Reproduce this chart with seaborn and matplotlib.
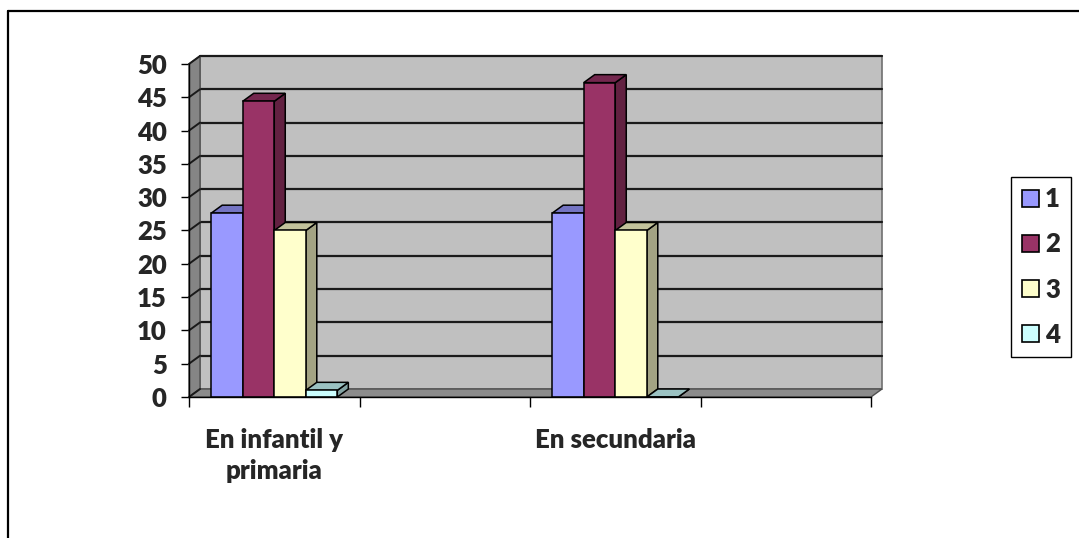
import matplotlib
matplotlib.use("Agg")
import matplotlib.pyplot as plt
from matplotlib.patches import Polygon, Rectangle
from matplotlib.lines import Line2D
import matplotlib.colors as mcolors
import numpy as np
import pandas as pd
import seaborn as sns

# ---- data -------------------------------------------------------------
categories = ["En infantil y\nprimaria", "En secundaria"]
series = ["1", "2", "3", "4"]
values_infantil = [27.6, 44.4, 25.0, 1.0]
values_secundaria = [27.6, 47.2, 25.0, 0.0]
y_ticks = [0, 5, 10, 15, 20, 25, 30, 35, 40, 45, 50]
colors = ["#9999FF", "#993366", "#FFFFCC", "#CCFFFF"]

# category slots on the axis (two unlabeled slots keep the original spacing)
slot_order = [categories[0], " ", categories[1], "  "]

df = pd.DataFrame({
    "categoria": [categories[0]] * len(series) + [categories[1]] * len(series),
    "serie": series + series,
    "valor": values_infantil + values_secundaria,
})

# ---- figure -----------------------------------------------------------
W, H, DPI = 1079, 538, 100
sns.set_theme(style="white")
plt.rcParams["font.family"] = ["Lato", "DejaVu Sans"]
FW = "heavy"
fig = plt.figure(figsize=(W / DPI, H / DPI), dpi=DPI)

# front plane of the 3D box
left_px, right_px, top_px, bottom_px = 189, 871, 64, 397
ax = fig.add_axes([left_px / W, 1 - bottom_px / H,
                   (right_px - left_px) / W, (bottom_px - top_px) / H])

sns.barplot(data=df, x="categoria", y="valor", hue="serie", order=slot_order,
            hue_order=series, palette=colors, width=0.74, saturation=1,
            edgecolor="black", linewidth=1.1, ax=ax, zorder=10)

ax.set_xlim(-0.5, len(slot_order) - 0.5)
ax.set_ylim(0, 50)
ax.patch.set_visible(False)

# depth offset of the box expressed in data units
dx_px, dy_px = 11, 8
px_x = (right_px - left_px) / len(slot_order)
px_y = (bottom_px - top_px) / 50
dxd, dyd = dx_px / px_x, dy_px / px_y
x0_box, x1_box = -0.5, len(slot_order) - 0.5

# back wall with gridlines
ax.add_patch(Rectangle((x0_box + dxd, dyd), x1_box - x0_box, 50,
                       facecolor="#C0C0C0", edgecolor="#707070", lw=1.2,
                       zorder=1, clip_on=False))
for v in y_ticks[1:]:
    ax.add_line(Line2D([x0_box + dxd, x1_box + dxd], [v + dyd, v + dyd],
                       color="#1a1a1a", lw=1.6, zorder=2, clip_on=False))
# left side wall
ax.add_patch(Polygon([(x0_box, 0), (x0_box, 50), (x0_box + dxd, 50 + dyd),
                      (x0_box + dxd, dyd)], closed=True, facecolor="#858585",
                     edgecolor="#505050", lw=1, zorder=3, clip_on=False))
for v in y_ticks:
    ax.add_line(Line2D([x0_box, x0_box + dxd], [v, v + dyd],
                       color="#1a1a1a", lw=1.4, zorder=4, clip_on=False))
# floor
ax.add_patch(Polygon([(x0_box, 0), (x1_box, 0), (x1_box + dxd, dyd),
                      (x0_box + dxd, dyd)], closed=True, facecolor="#8C8C8C",
                     edgecolor="#505050", lw=1, zorder=3, clip_on=False))

# 3D faces of every bar, built from the bar rectangles themselves
bars = [p for p in ax.patches if isinstance(p, Rectangle) and p.get_zorder() == 10
        and np.isfinite(p.get_height())]
bars.sort(key=lambda p: p.get_x())
for k, p in enumerate(bars):
    xa, w, h = p.get_x(), p.get_width(), p.get_height()
    xb = xa + w
    fc = np.array(mcolors.to_rgb(p.get_facecolor()))
    base = 20 + 3 * k
    side = Polygon([(xb, 0), (xb, h), (xb + dxd, h + dyd), (xb + dxd, dyd)],
                   closed=True, facecolor=fc * 0.64, edgecolor="black",
                   lw=1.1, zorder=base, clip_on=False)
    top = Polygon([(xa, h), (xb, h), (xb + dxd, h + dyd), (xa + dxd, h + dyd)],
                  closed=True, facecolor=fc * 0.76, edgecolor="black",
                  lw=1.1, zorder=base + 1, clip_on=False)
    ax.add_patch(side)
    ax.add_patch(top)
    p.set_zorder(base + 2)
    p.set_clip_on(False)

# axes, ticks and labels
for s in ["top", "right"]:
    ax.spines[s].set_visible(False)
ax.spines["left"].set_color("black")
ax.spines["bottom"].set_color("black")
ax.spines["left"].set_linewidth(1.0)
ax.spines["bottom"].set_linewidth(1.0)
ax.spines["left"].set_zorder(5)
ax.spines["bottom"].set_zorder(60)

ax.set_yticks(y_ticks)
ax.set_yticklabels([str(v) for v in y_ticks], fontsize=18.5, fontweight=FW)
ax.tick_params(axis="y", left=True, length=6, width=1, color="black", pad=10)

ax.set_xticks(np.arange(len(slot_order) + 1) - 0.5)
ax.set_xticklabels([])
ax.tick_params(axis="x", which="major", bottom=True, length=7, width=1,
               color="black")
ax.set_xticks(range(len(slot_order)), minor=True)
ax.set_xticklabels(slot_order, minor=True, fontsize=18.5, fontweight=FW,
                   linespacing=1.35, ha="center")
ax.tick_params(axis="x", which="minor", length=0, pad=22)
ax.set_xlabel("")
ax.set_ylabel("")

# legend
handles, labels = ax.get_legend_handles_labels()
leg = ax.legend(handles, labels, loc="center", bbox_to_anchor=(1041 / W, 1 - 267 / H),
                bbox_transform=fig.transFigure, frameon=True, fancybox=False,
                edgecolor="black", framealpha=1, handlelength=0.65,
                handleheight=0.65, handletextpad=0.25, labelspacing=0.82,
                borderpad=0.42, borderaxespad=0,
                prop={"size": 18.5, "weight": FW})
leg.get_frame().set_linewidth(1.0)
for hnd in leg.legend_handles:
    hnd.set_edgecolor("black")
    hnd.set_linewidth(1.2)

# outer chart frame
fig.add_artist(Line2D([8 / W, 8 / W], [0, 1 - 11 / H], color="black", lw=1.6,
                      transform=fig.transFigure))
fig.add_artist(Line2D([8 / W, 1], [1 - 11 / H, 1 - 11 / H], color="black",
                      lw=1.6, transform=fig.transFigure))

fig.savefig("out.png", dpi=DPI)
